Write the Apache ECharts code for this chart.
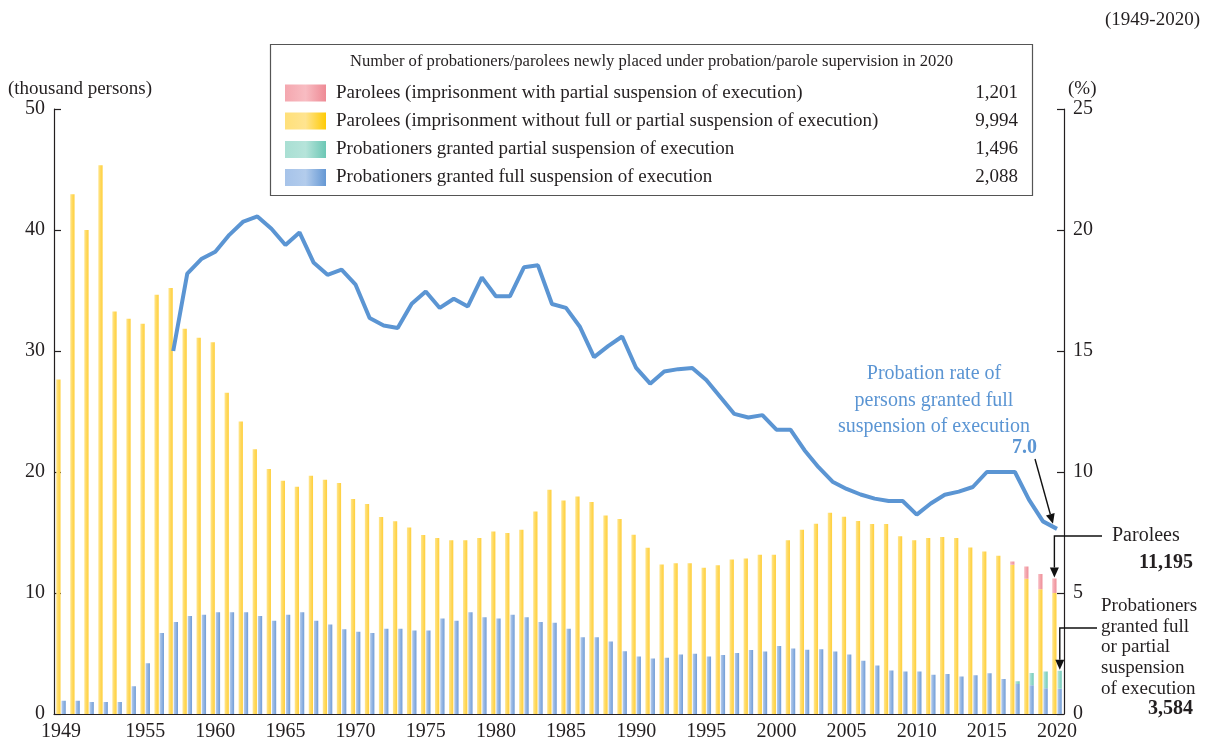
<!DOCTYPE html>
<html>
<head>
<meta charset="utf-8">
<title>Probationers / parolees 1949-2020</title>
<script src="https://cdn.jsdelivr.net/npm/echarts@6/dist/echarts.min.js"></script>
<style>
html, body { margin: 0; padding: 0; background: #fff; }
#chart { width: 1207px; height: 745px; }
</style>
</head>
<body>
<div id="chart"></div>
<script>
// categories
var years = [];
for (var y = 1949; y <= 2020; y++) years.push(String(y));
var labelYears = ['1949', '1955', '1960', '1965', '1970', '1975', '1980', '1985', '1990', '1995', '2000', '2005', '2010', '2015', '2020'];

// axis ticks
var countTicks = [0, 10, 20, 30, 40, 50];   // thousand persons
var rateTicks = [0, 5, 10, 15, 20, 25];     // %

// parolees, imprisonment without full or partial suspension (thousand), 1949-2020
var paroleFull = [
  27.65, 42.96, 40.0, 45.36, 33.26, 32.67, 32.25, 34.64, 35.2, 31.83,
  31.1, 30.72, 26.54, 24.17, 21.88, 20.25, 19.28, 18.79, 19.7, 19.36,
  19.09, 17.77, 17.35, 16.28, 15.92, 15.42, 14.79, 14.55, 14.35, 14.35,
  14.55, 15.09, 14.96, 15.23, 16.74, 18.54, 17.65, 17.98, 17.52, 16.41,
  16.12, 14.82, 13.74, 12.36, 12.46, 12.46, 12.09, 12.29, 12.76, 12.86,
  13.17, 13.17, 14.35, 15.22, 15.73, 16.64, 16.3, 15.96, 15.7, 15.7,
  14.68, 14.35, 14.55, 14.63, 14.55, 13.77, 13.42, 13.08, 12.34, 11.18,
  10.3, 9.994
];
// probationers granted full suspension (thousand), 1949-2020
var probFull = [
  1.1, 1.1, 1.0, 1.0, 1.0, 2.3, 4.2, 6.7, 7.6, 8.1,
  8.2, 8.4, 8.4, 8.4, 8.1, 7.7, 8.2, 8.4, 7.7, 7.4,
  7.0, 6.8, 6.7, 7.05, 7.05, 6.9, 6.9, 7.9, 7.7, 8.4,
  8.0, 7.9, 8.2, 8.0, 7.6, 7.55, 7.05, 6.35, 6.35, 6.0,
  5.19, 4.75, 4.58, 4.65, 4.92, 4.98, 4.75, 4.88, 5.05, 5.29,
  5.16, 5.63, 5.42, 5.32, 5.36, 5.16, 4.92, 4.41, 4.0, 3.6,
  3.52, 3.52, 3.25, 3.3, 3.1, 3.2, 3.36, 2.9, 2.48, 2.37,
  2.12, 2.088
];
// partial suspension system, from 2017
var partialYears = ['2017', '2018', '2019', '2020'];
var paroleTail = [0.26, 1.02, 1.27, 1.201];   // parolees, partial suspension
var probPart = [0.22, 1.02, 1.4, 1.496];      // probationers, partial suspension

// probation rate of persons granted full suspension (%), 1957-2020
var rateStart = '1957';
var rateFull = [
  15.0, 18.2, 18.8, 19.1, 19.8, 20.35, 20.56, 20.05, 19.38, 19.9,
  18.66, 18.15, 18.36, 17.74, 16.36, 16.05, 15.95, 16.95, 17.46, 16.78,
  17.16, 16.84, 18.04, 17.26, 17.26, 18.46, 18.54, 16.94, 16.78, 15.99,
  14.75, 15.2, 15.6, 14.3, 13.65, 14.15, 14.25, 14.3, 13.8, 13.1,
  12.4, 12.25, 12.35, 11.75, 11.75, 10.9, 10.2, 9.6, 9.3, 9.07,
  8.9, 8.8, 8.8, 8.24, 8.7, 9.06, 9.19, 9.38, 10.0, 10.0,
  10.0, 8.86, 7.96, 7.65
];
var rateLabel = '7.0';

var serif = '"Liberation Serif", "Times New Roman", serif';
var ink = '#231f20';
var lineBlue = '#5b95d3';

function grad(stops) {
  return new echarts.graphic.LinearGradient(0, 0, 1, 0, stops.map(function (c, i) {
    return { offset: i / (stops.length - 1), color: c };
  }));
}
var yellowFill = ['#ffe68f', '#ffd95e', '#ffcf3c'];
var pinkFill = ['#f8c0c6', '#f3a5ad', '#ee8d97'];
var greenFill = ['#bce6dd', '#95d9cb', '#70c9b7'];
var blueFill = ['#b6cdec', '#92b4e2', '#729dd6'];

function byYear(keys, vals) {
  return years.map(function (yr) {
    var i = keys.indexOf(yr);
    return i < 0 ? null : vals[i];
  });
}
var paroleTailData = byYear(partialYears, paroleTail);
var probPartData = byYear(partialYears, probPart);
var rateOffset = years.indexOf(rateStart);
var rateData = years.map(function (yr, i) {
  return i < rateOffset ? null : rateFull[i - rateOffset];
});

function fmt(v) {
  return Math.round(v * 1000).toLocaleString('en-US');
}

function valueAxis(ticks, pos) {
  return {
    type: 'value',
    position: pos,
    min: ticks[0],
    max: ticks[ticks.length - 1],
    interval: ticks[1] - ticks[0],
    axisLine: { show: true, lineStyle: { color: ink, width: 1.2 } },
    axisTick: { show: true, inside: true, length: 7, lineStyle: { color: ink, width: 1.2 } },
    axisLabel: { color: ink, fontFamily: serif, fontSize: 20, margin: 9 },
    splitLine: { show: false }
  };
}

var barW = 4.3;
var chart = echarts.init(document.getElementById('chart'));

var option = {
  animation: false,
  backgroundColor: '#fff',
  grid: { left: 54, right: 143, top: 109, bottom: 31, outerBoundsMode: 'none' },
  xAxis: {
    type: 'category',
    data: years,
    axisLine: { lineStyle: { color: ink, width: 1.2 } },
    axisTick: { show: false },
    axisLabel: {
      interval: function (idx, val) { return labelYears.indexOf(val) >= 0; },
      color: ink, fontFamily: serif, fontSize: 20, margin: 8
    }
  },
  yAxis: [valueAxis(countTicks, 'left'), valueAxis(rateTicks, 'right')],
  series: [
    { name: 'paroleFull', type: 'bar', stack: 'parole', data: paroleFull,
      barWidth: barW, barGap: '22%', itemStyle: { color: grad(yellowFill) } },
    { name: 'paroleTail', type: 'bar', stack: 'parole', data: paroleTailData,
      barWidth: barW, itemStyle: { color: grad(pinkFill) } },
    { name: 'probFull', type: 'bar', stack: 'prob', data: probFull,
      barWidth: barW, itemStyle: { color: grad(blueFill) } },
    { name: 'probPart', type: 'bar', stack: 'prob', data: probPartData,
      barWidth: barW, itemStyle: { color: grad(greenFill) } },
    { name: 'rate', type: 'line', yAxisIndex: 1, data: rateData, symbol: 'none',
      lineStyle: { color: lineBlue, width: 4 }, z: 5 }
  ]
};
chart.setOption(option);

// annotations and legend
function txt(x, y, s, o) {
  o = o || {};
  return {
    type: 'text', x: x, y: y, z: 20, scaleX: o.sx || 1,
    style: {
      text: s, x: 0, y: 0, fill: o.color || ink,
      font: (o.bold ? 'bold ' : '') + (o.size || 20) + 'px ' + serif,
      textAlign: o.align || 'left', textVerticalAlign: 'middle'
    }
  };
}
function arrow(pts, color) {
  var n = pts.length, tip = pts[n - 1], prev = pts[n - 2];
  var dx = tip[0] - prev[0], dy = tip[1] - prev[1];
  var len = Math.sqrt(dx * dx + dy * dy);
  var ux = dx / len, uy = dy / len, hl = 10, hw = 4.5;
  var bx = tip[0] - ux * hl, by = tip[1] - uy * hl;
  return [
    { type: 'polyline', z: 20, shape: { points: pts.slice(0, n - 1).concat([[bx, by]]) },
      style: { stroke: color, lineWidth: 1.4, fill: null } },
    { type: 'polygon', z: 20,
      shape: { points: [tip, [bx + uy * hw, by - ux * hw], [bx - uy * hw, by + ux * hw]] },
      style: { fill: color } }
  ];
}

var g = [];
g.push(txt(1200, 20, '(1949-2020)', { size: 19, align: 'right' }));
g.push(txt(8, 89, '(thousand persons)', { size: 19 }));
g.push(txt(1068, 89, '(%)', { size: 19 }));

// legend box
var legTitle = 'Number of probationers/parolees newly placed under probation/parole supervision in 2020';
var ctx = document.createElement('canvas').getContext('2d');
ctx.font = '17px ' + serif;
var titleScale = 603 / ctx.measureText(legTitle).width;
g.push({ type: 'rect', z: 15, shape: { x: 270.5, y: 44.5, width: 762, height: 151 },
  style: { fill: '#fff', stroke: '#555', lineWidth: 1.2 } });
g.push(txt(651.5, 62, legTitle, { size: 17, align: 'center', sx: titleScale }));

var legRows = [
  ['Parolees (imprisonment with partial suspension of execution)', paroleTail[3], ['#f4a7af', '#f8bcc2', '#ee8a95']],
  ['Parolees (imprisonment without full or partial suspension of execution)', paroleFull[71], ['#ffe07a', '#ffe490', '#ffcb05']],
  ['Probationers granted partial suspension of execution', probPart[3], ['#a9dfd3', '#b6e4da', '#6cc7b5']],
  ['Probationers granted full suspension of execution', probFull[71], ['#a6c3e9', '#b3ccec', '#6598d4']]
];
var rowY = [93, 121, 149.5, 177.5];
legRows.forEach(function (r, i) {
  g.push({ type: 'rect', z: 20, shape: { x: 285, y: rowY[i] - 8.5, width: 41, height: 17 },
    style: { fill: grad(r[2]) } });
  g.push(txt(336, rowY[i], r[0], { size: 19 }));
  g.push(txt(1018, rowY[i], fmt(r[1]), { size: 19, align: 'right' }));
});

// rate annotation
var rateLines = ['Probation rate of', 'persons granted full', 'suspension of execution'];
rateLines.forEach(function (s, i) {
  g.push(txt(934, 374 + i * 26.5, s, { size: 20, align: 'center', color: lineBlue }));
});
g.push(txt(1037, 448, rateLabel, { size: 20, bold: true, align: 'right', color: lineBlue }));
var pEnd = chart.convertToPixel({ xAxisIndex: 0, yAxisIndex: 1 }, ['2020', rateFull[rateFull.length - 1]]);
g = g.concat(arrow([[1035, 459], [pEnd[0] - 4, pEnd[1] - 5]], '#111'));

// parolees annotation
var pTop = chart.convertToPixel({ xAxisIndex: 0, yAxisIndex: 0 }, ['2020', paroleFull[71] + paroleTail[3]]);
g = g.concat(arrow([[1102, 536], [pTop[0] - 2.6, 536], [pTop[0] - 2.6, pTop[1] - 1]], '#111'));
g.push(txt(1112, 536, 'Parolees', { size: 20 }));
g.push(txt(1193, 563, fmt(paroleFull[71] + paroleTail[3]), { size: 20, bold: true, align: 'right' }));

// probationers annotation
var qTop = chart.convertToPixel({ xAxisIndex: 0, yAxisIndex: 0 }, ['2020', probFull[71] + probPart[3]]);
g = g.concat(arrow([[1097, 628], [qTop[0] + 2.8, 628], [qTop[0] + 2.8, qTop[1] - 1]], '#111'));
var probLines = ['Probationers', 'granted full', 'or partial', 'suspension', 'of execution'];
probLines.forEach(function (s, i) {
  g.push(txt(1101, 606 + i * 20.7, s, { size: 19 }));
});
g.push(txt(1193, 709, fmt(probFull[71] + probPart[3]), { size: 20, bold: true, align: 'right' }));

chart.setOption({ graphic: { elements: g } });
</script>
</body>
</html>
